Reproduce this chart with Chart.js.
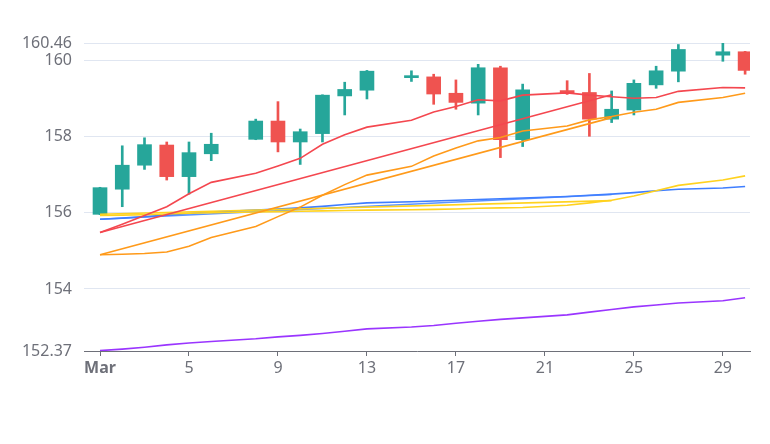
<!DOCTYPE html>
<html>
<head>
<meta charset="utf-8">
<script src="https://cdn.jsdelivr.net/npm/chart.js@4"></script>
<style>
  html, body { margin: 0; padding: 0; background: #ffffff; }
  #wrap { width: 770px; height: 444px; }
</style>
</head>
<body>
<div id="wrap"><canvas id="chart"></canvas></div>
<script>
// Candles (day of March)
const days   = [1, 2, 3, 4, 5, 6, 8, 9, 10, 11, 12, 13, 15, 16, 17, 18, 19, 20, 22, 23, 24, 25, 26, 27, 29, 30];
const opens  = [155.96, 156.62, 157.25, 157.78, 156.95, 157.55, 157.93, 158.41, 157.86, 158.08, 159.07, 159.22, 159.55, 159.57, 159.14, 158.88, 159.81, 157.92, 159.21, 159.16, 158.46, 158.70, 159.36, 159.72, 160.14, 160.23];
const highs  = [156.67, 157.76, 157.97, 157.86, 157.86, 158.09, 158.46, 158.92, 158.20, 159.10, 159.43, 159.74, 159.73, 159.64, 159.49, 159.90, 159.85, 159.38, 159.47, 159.66, 159.20, 159.49, 159.85, 160.42, 160.46, 160.24];
const lows   = [155.95, 156.16, 157.14, 156.86, 156.49, 157.37, 157.92, 157.60, 157.27, 157.86, 158.57, 158.99, 159.45, 158.85, 158.72, 158.57, 157.45, 157.74, 159.11, 158.01, 158.37, 158.57, 159.27, 159.44, 159.98, 159.64];
const closes = [156.66, 157.25, 157.79, 156.95, 157.58, 157.80, 158.41, 157.86, 158.13, 159.09, 159.24, 159.72, 159.57, 159.12, 158.90, 159.81, 157.92, 159.23, 159.14, 158.46, 158.72, 159.40, 159.73, 160.29, 160.23, 159.74];

// Curved lines, one value per candle day
const redLine    = [155.48, 155.70, 155.93, 156.16, 156.50, 156.80, 157.04, 157.23, 157.43, 157.80, 158.05, 158.25, 158.43, 158.65, 158.79, 158.97, 158.94, 159.09, 159.15, 159.09, 159.05, 159.01, 159.03, 159.19, 159.29, 159.28];
const orangeLine = [154.90, 154.91, 154.93, 154.97, 155.12, 155.35, 155.64, 155.90, 156.15, 156.46, 156.74, 156.99, 157.22, 157.49, 157.70, 157.89, 157.98, 158.15, 158.28, 158.44, 158.53, 158.64, 158.72, 158.90, 159.03, 159.14];
const yellowLine = [155.93, 155.94, 155.95, 155.97, 155.99, 156.00, 156.02, 156.03, 156.04, 156.05, 156.06, 156.07, 156.08, 156.09, 156.10, 156.12, 156.13, 156.14, 156.20, 156.26, 156.33, 156.44, 156.58, 156.72, 156.86, 156.97];
const blueLine   = [155.83, 155.86, 155.90, 155.94, 155.98, 156.02, 156.07, 156.10, 156.13, 156.17, 156.22, 156.26, 156.29, 156.31, 156.33, 156.35, 156.37, 156.39, 156.43, 156.46, 156.49, 156.53, 156.58, 156.62, 156.65, 156.69];
const purpleLine = [152.38, 152.42, 152.47, 152.53, 152.58, 152.62, 152.69, 152.74, 152.78, 152.83, 152.89, 152.95, 153.00, 153.04, 153.10, 153.15, 153.20, 153.24, 153.32, 153.39, 153.46, 153.53, 153.58, 153.63, 153.69, 153.77];

// Straight trend lines (start and end day)
const trendDays   = [1, 24];
const redTrend    = [155.48, 159.10];
const orangeTrend = [154.90, 158.50];
const yellowTrend = [155.96, 156.32];
const blueTrend   = [155.83, 156.48];

// Axis ticks
const xTicks = [1, 5, 9, 13, 17, 21, 25, 29];
const yTicks = [152.37, 154, 156, 158, 160, 160.46];

const UP = '#26A69A';
const DOWN = '#EF5350';
const candleColor = i => closes[i] >= opens[i] ? UP : DOWN;

const pts = (xs, ys) => xs.map((x, i) => ({ x: x, y: ys[i] }));

function lineSet(xs, ys, color) {
    return {
        type: 'line',
        data: pts(xs, ys),
        borderColor: color,
        borderWidth: 1.6,
        pointRadius: 0,
        tension: 0,
        order: 0
    };
}

const datasets = [
    {
        // wicks
        type: 'bar',
        data: days.map((d, i) => ({ x: d, y: [lows[i], highs[i]] })),
        backgroundColor: ctx => candleColor(ctx.dataIndex),
        barThickness: 2,
        grouped: false,
        order: 2
    },
    {
        // bodies
        type: 'bar',
        data: days.map((d, i) => ({ x: d, y: [opens[i], closes[i]] })),
        backgroundColor: ctx => candleColor(ctx.dataIndex),
        barThickness: 14,
        minBarLength: 2,
        grouped: false,
        order: 1
    },
    lineSet(days, redLine, '#F4474F'),
    lineSet(trendDays, redTrend, '#F4474F'),
    lineSet(days, orangeLine, '#FF9A1A'),
    lineSet(trendDays, orangeTrend, '#FF9A1A'),
    lineSet(days, yellowLine, '#FFD21F'),
    lineSet(trendDays, yellowTrend, '#FFD21F'),
    lineSet(days, blueLine, '#3F7EFF'),
    lineSet(trendDays, blueTrend, '#5C94FF'),
    lineSet(days, purpleLine, '#9A35FF')
];

new Chart(document.getElementById('chart'), {
    type: 'bar',
    data: { datasets: datasets },
    options: {
        responsive: true,
        maintainAspectRatio: false,
        animation: false,
        layout: { padding: { top: 43, right: 20, bottom: 62, left: 0 } },
        plugins: {
            legend: { display: false },
            tooltip: { enabled: false }
        },
        scales: {
            x: {
                type: 'linear',
                offset: false,
                min: 0.28,
                max: 30.22,
                afterBuildTicks: scale => { scale.ticks = xTicks.map(v => ({ value: v })); },
                afterFit: scale => { scale.height = 31; },
                grid: {
                    offset: false,
                    drawOnChartArea: false,
                    drawTicks: true,
                    tickLength: 5,
                    color: '#6E7079'
                },
                border: { color: '#6E7079', width: 1 },
                ticks: {
                    padding: 3,
                    maxRotation: 0,
                    autoSkip: false,
                    color: '#6E7079',
                    font: ctx => ({
                        family: 'Noto Sans',
                        size: 16,
                        weight: ctx.tick && ctx.tick.value === 1 ? 'bold' : 'normal'
                    }),
                    callback: v => v === 1 ? 'Mar' : String(v)
                }
            },
            y: {
                min: 152.37,
                max: 160.46,
                afterBuildTicks: scale => { scale.ticks = yTicks.map(v => ({ value: v })); },
                afterFit: scale => { scale.width = 84; },
                grid: { color: '#E0E6F1', drawTicks: false },
                border: { display: false },
                ticks: {
                    padding: 12,
                    autoSkip: false,
                    color: '#6E7079',
                    font: { family: 'Noto Sans', size: 16 },
                    callback: v => String(v)
                }
            }
        }
    }
});
</script>
</body>
</html>
